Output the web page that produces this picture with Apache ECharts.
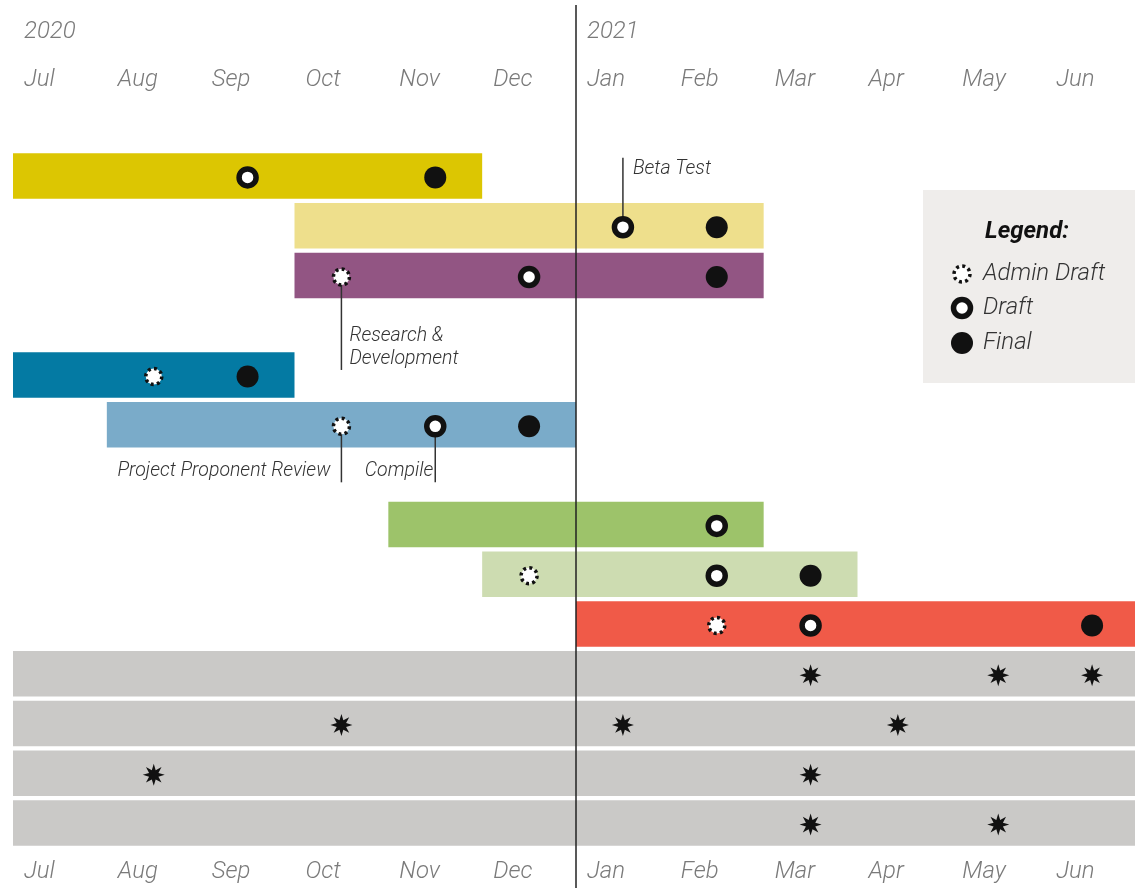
<!DOCTYPE html>
<html><head><meta charset="utf-8">
<script src="https://cdn.jsdelivr.net/npm/echarts@6/dist/echarts.min.js"></script>
<style>html,body{margin:0;padding:0;background:#fff}#c{width:1135px;height:888px}</style>
</head><body><div id="c"></div>
<script>
// ---------- data ----------
const months = ['Jul','Aug','Sep','Oct','Nov','Dec','Jan','Feb','Mar','Apr','May','Jun'];
const yearLabels = ['2020','','','','','','2021','','','','',''];
const rowNames = ['A','B','C','gap1','D','E','gap2','F','G','H','I','J','K','L'];
// bars: row index, start month, end month (0 = Jul 2020)
const taskRows  = [0, 1, 2, 4, 5, 7, 8, 9, 10, 11, 12, 13];
const taskStart = [0, 3, 3, 0, 1, 4, 5, 6, 0, 0, 0, 0];
const taskEnd   = [5, 8, 8, 3, 6, 8, 9, 12, 12, 12, 12, 12];
// milestones: [month, row]
const adminDraft = [[3.5,2],[1.5,4],[3.5,5],[5.5,8],[7.5,9]];
const draft      = [[2.5,0],[6.5,1],[5.5,2],[4.5,5],[7.5,7],[7.5,8],[8.5,9]];
const finalM     = [[4.5,0],[7.5,1],[7.5,2],[2.5,4],[5.5,5],[8.5,8],[11.5,9]];
const stars      = [[8.5,10],[10.5,10],[11.5,10],[3.5,11],[6.5,11],[9.43,11],[1.5,12],[8.5,12],[8.5,13],[10.5,13]];
// annotations: [month, row, text]
const notes = [[6.5,1,'Beta Test'],[3.5,2,'Research &\nDevelopment'],[3.5,5,'Project Proponent Review'],[4.5,5,'Compile']];
const yearDivider = [6];

// ---------- styles ----------
const taskColors = ['#dcc602','#eedf8c','#925583','#047aa3','#7aabc9','#9dc36a','#cddcb1','#f05a48','#cac9c7','#cac9c7','#cac9c7','#cac9c7'];
// per note: [direction, lineLength, textDx, textDy, align]
const noteStyle = [['up',68,10,-56.5,'left'],['down',94.5,8,72,'left'],['down',57.5,-11,46.5,'right'],['down',57.5,-2,46.5,'right']];
const FONT = 'Roboto';
const ink = '#111';
const MO = [0, 1.5]; // marker offset

function starPath(){
  let d = '';
  for (let k = 0; k < 16; k++){
    const r = k % 2 === 0 ? 10 : 4.6;
    const a = -Math.PI/2 + k*Math.PI/8;
    const x = (10 + r*Math.cos(a)).toFixed(3), y = (10 + r*Math.sin(a)).toFixed(3);
    d += (k === 0 ? 'M' : 'L') + x + ' ' + y + ' ';
  }
  return 'path://' + d + 'Z';
}

const barData = taskRows.map((r,i)=>[taskStart[i], taskEnd[i], r, i]);
const noteData = notes.map((n,i)=>[n[0], n[1], i]);

const labelBase = {fontFamily: FONT, fontStyle:'italic', fontWeight:300, fontSize:24, color:'#7a7a7a', align:'left', padding:[0,0,0,11]};

const option = {
  animation: false,
  grid: {left: 13, top: 151, width: 1126, height: 697, outerBoundsMode:'none', containLabel:false},
  xAxis: [
    {type:'value', min:0, max:12, interval:1, position:'top',
     axisLine:{show:false}, axisTick:{show:false}, splitLine:{show:false},
     axisLabel: Object.assign({margin:59, formatter:v=>months[v]||''}, labelBase)},
    {type:'value', min:0, max:12, interval:1, position:'bottom',
     axisLine:{show:false}, axisTick:{show:false}, splitLine:{show:false},
     axisLabel: Object.assign({margin:12, formatter:v=>months[v]||''}, labelBase)},
    {type:'value', min:0, max:12, interval:1, position:'top', offset:48,
     axisLine:{show:false}, axisTick:{show:false}, splitLine:{show:false},
     axisLabel: Object.assign({margin:59, formatter:v=>yearLabels[v]||''}, labelBase)}
  ],
  yAxis: {type:'category', data: rowNames, inverse:true, show:false},
  series: [
    {type:'custom', z:1, data: barData, encode:{x:[0,1], y:2},
     renderItem:(params, api)=>{
       const s = api.coord([api.value(0), api.value(2)]);
       const e = api.coord([api.value(1), api.value(2)]);
       const h = api.size([0,1])[1]*0.914;
       return {type:'rect', shape:{x:s[0], y:s[1]-h/2, width:e[0]-s[0], height:h},
               style:{fill: taskColors[api.value(3)]}};
     }},
    {type:'custom', z:2, clip:false, data: noteData, encode:{x:0, y:1},
     renderItem:(params, api)=>{
       const i = api.value(2);
       const st = noteStyle[i];
       const p = api.coord([api.value(0), api.value(1)]);
       const y2 = st[0]==='up' ? p[1]-st[1] : p[1]+st[1];
       return {type:'group', children:[
         {type:'line', shape:{x1:p[0], y1:p[1], x2:p[0], y2:y2}, style:{stroke:'#333', lineWidth:1.5}},
         {type:'text', x:p[0]+st[2], y:p[1]+st[3],
          style:{text: notes[i][2], fontFamily:FONT, fontStyle:'italic', fontWeight:300, fontSize:19.5,
                 lineHeight:23, fill:'#333', align:st[4], verticalAlign:'middle'}}
       ]};
     }},
    {name:'Admin Draft', type:'scatter', z:3, data: adminDraft, symbol:'circle', symbolSize:16, symbolOffset:MO,
     itemStyle:{color:'#fff', borderColor:ink, borderWidth:3.5, borderType:[3,3.28], opacity:1}},
    {name:'Draft', type:'scatter', z:3, data: draft, symbol:'circle', symbolSize:17, symbolOffset:MO,
     itemStyle:{color:'#fff', borderColor:ink, borderWidth:5.5, opacity:1}},
    {name:'Final', type:'scatter', z:3, data: finalM, symbol:'circle', symbolSize:22, symbolOffset:MO,
     itemStyle:{color:ink, opacity:1}},
    {name:'Milestone', type:'scatter', z:3, data: stars, symbol: starPath(), symbolSize:22, symbolOffset:MO,
     itemStyle:{color:ink, opacity:1}},
    {type:'custom', z:4, clip:false, data: yearDivider.map(v=>[v,0]), encode:{x:0, y:1},
     renderItem:(params, api)=>{
       const x = api.coord([api.value(0), 0])[0];
       const cs = params.coordSys;
       return {type:'line', shape:{x1:x, y1:cs.y-146, x2:x, y2:cs.y+cs.height+40},
               style:{stroke:'#222', lineWidth:1.5}};
     }}
  ],
  graphic: [{
    type:'group', left:923, top:190,
    children:[
      {type:'rect', shape:{x:0,y:0,width:212,height:193}, style:{fill:'#efedeb'}},
      {type:'text', x:104, y:42, style:{text:'Legend:', fontFamily:FONT, fontStyle:'italic', fontWeight:'bold', fontSize:24, fill:'#111', align:'center', verticalAlign:'middle'}},
      {type:'circle', shape:{cx:39, cy:84, r:8}, style:{fill:'#fff', stroke:ink, lineWidth:3.5, lineDash:[3,3.28]}},
      {type:'circle', shape:{cx:39, cy:118, r:8.5}, style:{fill:'#fff', stroke:ink, lineWidth:5.5}},
      {type:'circle', shape:{cx:39, cy:153, r:11}, style:{fill:ink}},
      {type:'text', x:60, y:84, style:{text:'Admin Draft', fontFamily:FONT, fontStyle:'italic', fontWeight:300, fontSize:24, fill:'#333', verticalAlign:'middle'}},
      {type:'text', x:60, y:118, style:{text:'Draft', fontFamily:FONT, fontStyle:'italic', fontWeight:300, fontSize:24, fill:'#333', verticalAlign:'middle'}},
      {type:'text', x:60, y:153, style:{text:'Final', fontFamily:FONT, fontStyle:'italic', fontWeight:300, fontSize:24, fill:'#333', verticalAlign:'middle'}}
    ]
  }]
};
const chart = echarts.init(document.getElementById('c'), null, {renderer:'canvas'});
chart.setOption(option);
</script>
</body></html>
